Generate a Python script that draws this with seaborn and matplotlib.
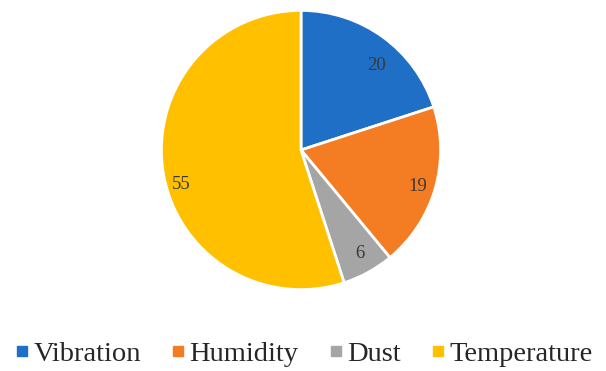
import matplotlib
matplotlib.use("Agg")
import matplotlib.pyplot as plt
from matplotlib.lines import Line2D
import seaborn as sns

categories = ["Vibration", "Humidity", "Dust", "Temperature"]
values = [20, 19, 6, 55]
colors = sns.color_palette(["#1F6FC6", "#F47D24", "#A5A5A5", "#FFC000"])

sns.set_theme(style="white")
plt.rcParams["font.family"] = ["Liberation Serif", "DejaVu Serif"]

fig = plt.figure(figsize=(6.06, 3.71), dpi=100)
ax = fig.add_axes([160 / 606, 80 / 371, 282 / 606, 282 / 371])

wedges, texts = ax.pie(
    values,
    colors=colors,
    startangle=90,
    counterclock=False,
    labels=[str(v) for v in values],
    labeldistance=0.8,
    radius=1.0,
    wedgeprops=dict(edgecolor="white", linewidth=2),
    textprops=dict(fontsize=13.5, color="#3a3a3a"),
)
# nudge the value labels slightly down within their slices
for t in texts:
    x, y = t.get_position()
    t.set_position((x, y - 0.04))
x, y = texts[3].get_position()
texts[3].set_position((x, y - 0.08))

ax.set_xlim(-1.01, 1.01)
ax.set_ylim(-1.01, 1.01)
ax.set_aspect("equal")

handles = [
    Line2D([0], [0], marker="s", linestyle="none", markersize=6.5,
           markerfacecolor=c, markeredgecolor=c)
    for c in colors
]
fig.legend(
    handles, categories,
    loc="center", bbox_to_anchor=(0.5, 1 - 354 / 371),
    ncol=4, frameon=False, fontsize=20.5,
    handletextpad=0.1, columnspacing=1.0, handlelength=0.6,
    labelcolor="#262626",
)

fig.savefig("out.png", dpi=100)
